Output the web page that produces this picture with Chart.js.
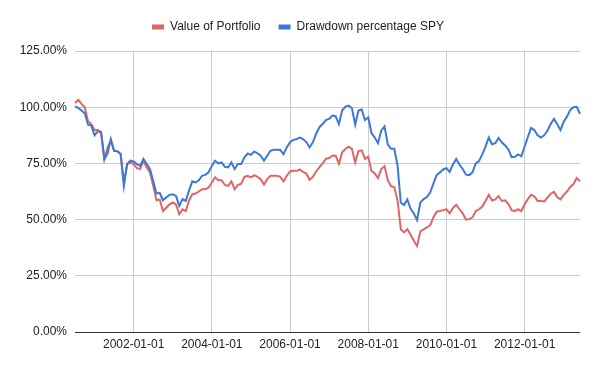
<!DOCTYPE html>
<html>
<head>
<meta charset="utf-8">
<script src="https://cdn.jsdelivr.net/npm/chart.js@4.4.1/dist/chart.umd.min.js"></script>
<style>
  html, body { margin: 0; padding: 0; background: #ffffff; }
  #wrap { width: 600px; height: 371px; }
</style>
</head>
<body>
<div id="wrap"><canvas id="c" width="600" height="371"></canvas></div>
<script>
// Monthly categories 2000-07 .. 2013-06
const startYear = 2000, startMonth = 7, monthCount = 156;
const categories = [];
for (let k = 0; k < monthCount; k++) {
  const m = startMonth - 1 + k;
  const y = startYear + Math.floor(m / 12);
  const mm = (m % 12) + 1;
  categories.push(y + '-' + String(mm).padStart(2, '0') + '-01');
}

const xTickLabels = ['2002-01-01', '2004-01-01', '2006-01-01', '2008-01-01', '2010-01-01', '2012-01-01'];
const yTickValues = [0, 25, 50, 75, 100, 125];

const portfolioValues = [
  101.8, 103.3, 101.5, 100.0, 93.7, 92.5, 89.9, 89.9, 88.8, 76.9,
  82.1, 85.1, 80.6, 80.4, 79.2, 66.5, 74.7, 75.4, 74.7, 72.9,
  72.5, 76.0, 73.2, 71.0, 65.0, 58.6, 59.0, 53.8, 55.3, 56.8,
  57.6, 56.8, 52.4, 54.6, 53.8, 58.5, 61.3, 61.6, 62.5, 63.5,
  63.5, 64.3, 66.5, 68.8, 67.5, 67.5, 65.4, 65.0, 67.0, 63.5,
  65.4, 66.0, 69.0, 69.5, 68.8, 69.8, 69.0, 68.0, 65.6, 68.0,
  69.5, 69.5, 69.5, 69.0, 67.0, 69.5, 71.4, 71.7, 71.7, 72.3,
  71.2, 70.5, 67.7, 69.0, 71.4, 73.2, 75.0, 77.0, 77.4, 78.4,
  78.5, 74.8, 79.9, 81.4, 82.4, 81.5, 75.4, 80.5, 80.8, 77.0,
  78.0, 71.7, 70.5, 68.5, 72.5, 73.8, 67.5, 64.8, 64.5, 58.5,
  45.7, 44.3, 45.8, 43.3, 40.6, 38.2, 44.9, 45.7, 46.5, 47.5,
  51.0, 53.5, 53.8, 54.2, 54.6, 52.8, 55.2, 56.6, 54.6, 52.8,
  50.0, 50.2, 51.0, 53.8, 54.6, 55.8, 58.3, 61.0, 58.5, 59.0,
  60.5, 58.3, 58.6, 57.0, 54.2, 53.8, 54.6, 53.8, 56.8, 59.1,
  61.0, 60.3, 58.3, 58.3, 58.1, 59.8, 61.5, 62.3, 60.0, 59.0,
  61.0, 62.5, 64.5, 65.8, 68.5, 67.0
];

const spyDrawdown = [
  100.3, 99.7, 98.5, 97.3, 92.2, 91.8, 87.5, 89.3, 89.0, 76.9,
  79.5, 85.8, 80.6, 80.4, 79.2, 65.0, 74.7, 76.2, 75.9, 74.7,
  73.9, 77.0, 74.7, 72.5, 67.2, 61.6, 61.9, 58.6, 59.8, 61.0,
  61.3, 60.5, 56.1, 59.1, 58.3, 63.0, 67.0, 66.5, 67.5, 69.5,
  69.9, 71.0, 73.9, 76.2, 75.0, 75.4, 73.5, 73.2, 75.4, 72.5,
  74.7, 74.7, 77.7, 79.4, 78.8, 80.3, 79.5, 78.4, 76.2, 78.4,
  80.6, 81.1, 81.1, 81.0, 79.1, 82.1, 84.4, 85.4, 85.8, 86.5,
  85.8, 84.5, 82.1, 84.4, 88.1, 91.1, 92.5, 94.3, 94.8, 96.3,
  96.0, 92.5, 98.5, 100.3, 100.7, 99.5, 92.2, 98.5, 99.0, 94.3,
  95.5, 88.5, 86.5, 84.0, 89.6, 91.5, 83.5, 81.5, 81.5, 74.0,
  57.5, 56.5, 59.0, 54.8, 52.7, 49.8, 57.6, 59.1, 60.0, 62.0,
  66.0, 69.8, 71.0, 72.3, 72.9, 71.2, 74.5, 77.0, 74.5, 72.5,
  70.0, 69.8, 71.0, 75.0, 76.0, 79.0, 82.5, 86.5, 83.5, 84.0,
  86.3, 84.4, 83.0, 81.3, 77.8, 77.9, 79.0, 78.2, 82.5, 86.8,
  90.8, 89.8, 87.5, 86.5, 87.5, 89.5, 92.5, 94.8, 92.5, 89.8,
  93.5, 95.8, 98.8, 100.0, 100.2, 97.0
];

const seriesNames = ['Value of Portfolio', 'Drawdown percentage SPY'];
const seriesColors = ['#e06666', '#3c78d8'];

Chart.defaults.font.family = '"Liberation Sans", Arial, sans-serif';
Chart.defaults.font.size = 12;
Chart.defaults.color = '#222222';

const layoutFix = {
  id: 'layoutFix',
  beforeLayout(chart) {
    const lg = chart.legend;
    if (lg && !lg._patched) {
      const origFit = lg.fit;
      lg.fit = function () { origFit.call(this); this.height = 48; };
      lg._patched = true;
    }
  },
  afterLayout(chart) {
    const lg = chart.legend;
    if (lg) { lg.left += 8; lg.right += 8; }
  }
};

new Chart(document.getElementById('c'), {
  type: 'line',
  data: {
    labels: categories,
    datasets: [
      {
        label: seriesNames[0],
        data: portfolioValues,
        borderColor: seriesColors[0],
        backgroundColor: seriesColors[0],
        borderWidth: 2,
        pointRadius: 0,
        tension: 0,
        order: 2
      },
      {
        label: seriesNames[1],
        data: spyDrawdown,
        borderColor: seriesColors[1],
        backgroundColor: seriesColors[1],
        borderWidth: 2,
        pointRadius: 0,
        tension: 0,
        order: 1
      }
    ]
  },
  options: {
    responsive: false,
    animation: false,
    devicePixelRatio: 1,
    layout: { padding: { top: 3, left: 0, right: 20, bottom: 0 } },
    plugins: {
      tooltip: { enabled: false },
      legend: {
        position: 'top',
        align: 'center',
        labels: {
          boxWidth: 12,
          boxHeight: 5,
          padding: 18,
          color: '#222222',
          font: { size: 12 },
          sort: (a, b) => a.datasetIndex - b.datasetIndex,
          generateLabels(chart) {
            const items = Chart.defaults.plugins.legend.labels.generateLabels(chart);
            items.forEach(it => { it.lineWidth = 0; it.fillStyle = it.strokeStyle; });
            return items;
          }
        }
      }
    },
    scales: {
      x: {
        type: 'category',
        border: { display: false },
        grid: { color: '#cccccc', lineWidth: 1, drawTicks: false },
        afterBuildTicks(scale) {
          scale.ticks = scale.ticks.filter(t => xTickLabels.includes(categories[t.value]));
        },
        afterFit(scale) { scale.height = 39; },
        ticks: {
          autoSkip: false,
          maxRotation: 0,
          padding: 5,
          color: '#222222',
          callback(value) { return categories[value]; }
        }
      },
      y: {
        min: 0,
        max: 125,
        border: { display: false },
        grid: {
          drawTicks: false,
          lineWidth: 1,
          color: ctx => (ctx.tick && ctx.tick.value === 0) ? '#333333' : '#cccccc'
        },
        afterBuildTicks(scale) {
          scale.ticks = yTickValues.map(v => ({ value: v }));
        },
        afterFit(scale) { scale.width = 75; },
        ticks: {
          padding: 8,
          color: '#222222',
          callback(value) { return Number(value).toFixed(2) + '%'; }
        }
      }
    }
  },
  plugins: [layoutFix]
});
</script>
</body>
</html>
